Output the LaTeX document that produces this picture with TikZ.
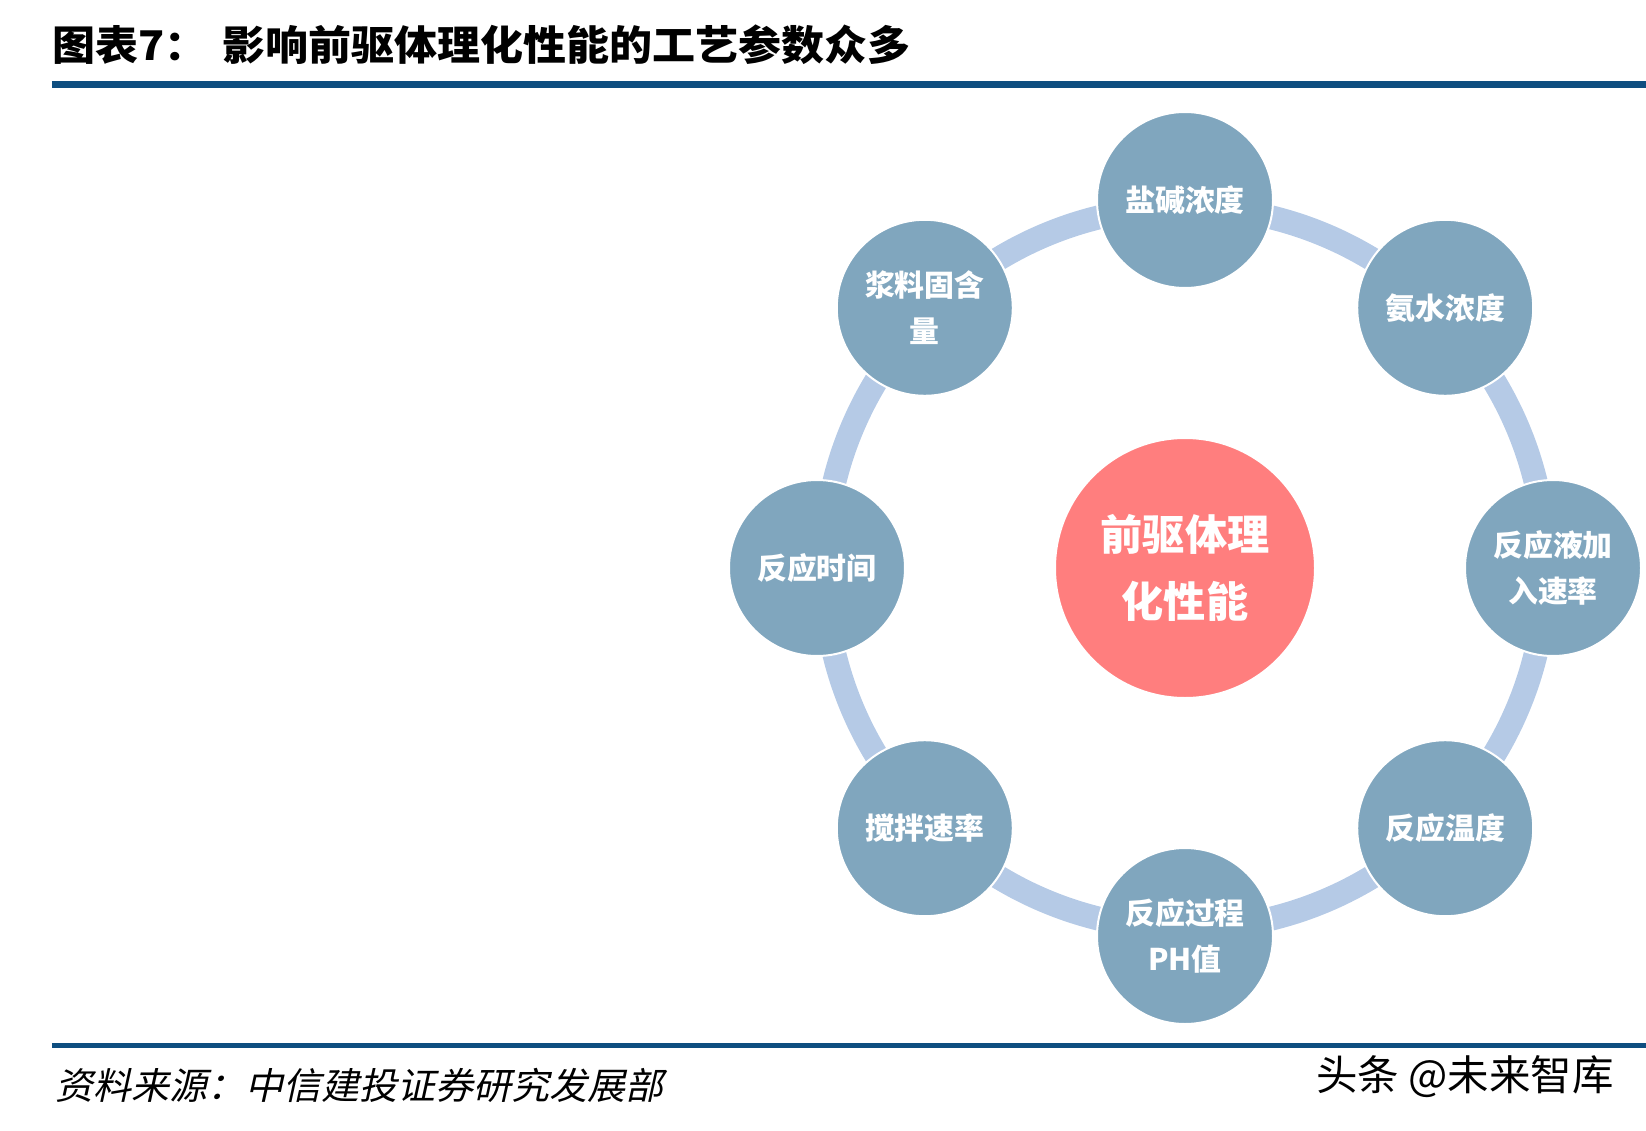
\documentclass[tikz,border=0pt]{standalone}
\usepackage{fontspec}
\usepackage{tikz}
\usetikzlibrary{calc}

\setmainfont{Noto Sans CJK SC}
\newfontfamily\titlefont[FakeStretch=1.05]{Noto Sans CJK SC}
\newfontfamily\notefont[FakeSlant=0.22, FakeStretch=1.03]{Noto Sans CJK SC}

\definecolor{barblue}{RGB}{14,78,128}
\definecolor{ringblue}{RGB}{181,202,230}
\definecolor{ballblue}{RGB}{128,166,190}
\definecolor{hubred}{RGB}{255,126,126}

\begin{document}
\begin{tikzpicture}[
	ball/.style={circle, fill=ballblue, draw=white, line width=0.04cm,
		minimum size=3.52cm, inner sep=0pt, align=center, text=white,
		font=\bfseries\fontsize{17}{26}\selectfont},
	hub/.style={circle, fill=hubred, draw=white, line width=0.04cm,
		minimum size=5.2cm, inner sep=0pt, align=center, text=white,
		font=\bfseries\fontsize{24}{38}\selectfont},
	ring/.style={draw=ringblue, line width=0.48cm},
	bar/.style={draw=barblue, line width=0.13cm},
	]
	\def \n {8}
	\def \radius {7.36cm}
	\def \ringradius {7.22cm}

	\useasboundingbox (-23.70,-11.24) rectangle (9.22,11.36);

	\coordinate (centre) at (0:0);

	% title and rules
	\node[anchor=west, inner sep=0pt, font=\titlefont\bfseries\fontsize{23.3}{28}\selectfont]
		(title) at (-22.66,10.46) {图表7：\hspace{0.3cm}影响前驱体理化性能的工艺参数众多};
	\coordinate (topleft)  at (-22.66,9.67);
	\coordinate (topright) at (9.22,9.67);
	\draw[bar] (topleft) -- (topright);
	\coordinate (botleft)  at (-22.66,-9.55);
	\coordinate (botright) at (9.22,-9.55);
	\draw[bar, line width=0.1cm] (botleft) -- (botright);

	\draw[ring] (centre) circle (\ringradius);

	\node[hub] (precursor) at (centre) {前驱体理\\化性能};

	\node[ball] (saltbase) at ({360/\n * 0 + 90}:\radius)
		{盐碱浓度};
	\node[ball] (solids)   at ({360/\n * 1 + 90}:\radius)
		{浆料固含\\量};
	\node[ball] (duration) at ({360/\n * 2 + 90}:\radius)
		{反应时间};
	\node[ball] (stirring) at ({360/\n * 3 + 90}:\radius)
		{搅拌速率};
	\node[ball] (phvalue)  at ({360/\n * 4 + 90}:\radius)
		{反应过程\\PH值};
	\node[ball] (heat)     at ({360/\n * 5 + 90}:\radius)
		{反应温度};
	\node[ball] (feedrate) at ({360/\n * 6 + 90}:\radius)
		{反应液加\\入速率};
	\node[ball] (ammonia)  at ({360/\n * 7 + 90}:\radius)
		{氨水浓度};

	% footer
	\node[anchor=west, inner sep=0pt, font=\notefont\fontsize{21}{25}\selectfont]
		(source) at (-22.6,-10.34) {资料来源：中信建投证券研究发展部};
	\node[anchor=east, inner sep=0pt, font=\fontsize{23.6}{28}\selectfont]
		(mark) at (8.58,-10.18) {头条 @未来智库};
\end{tikzpicture}
\end{document}
